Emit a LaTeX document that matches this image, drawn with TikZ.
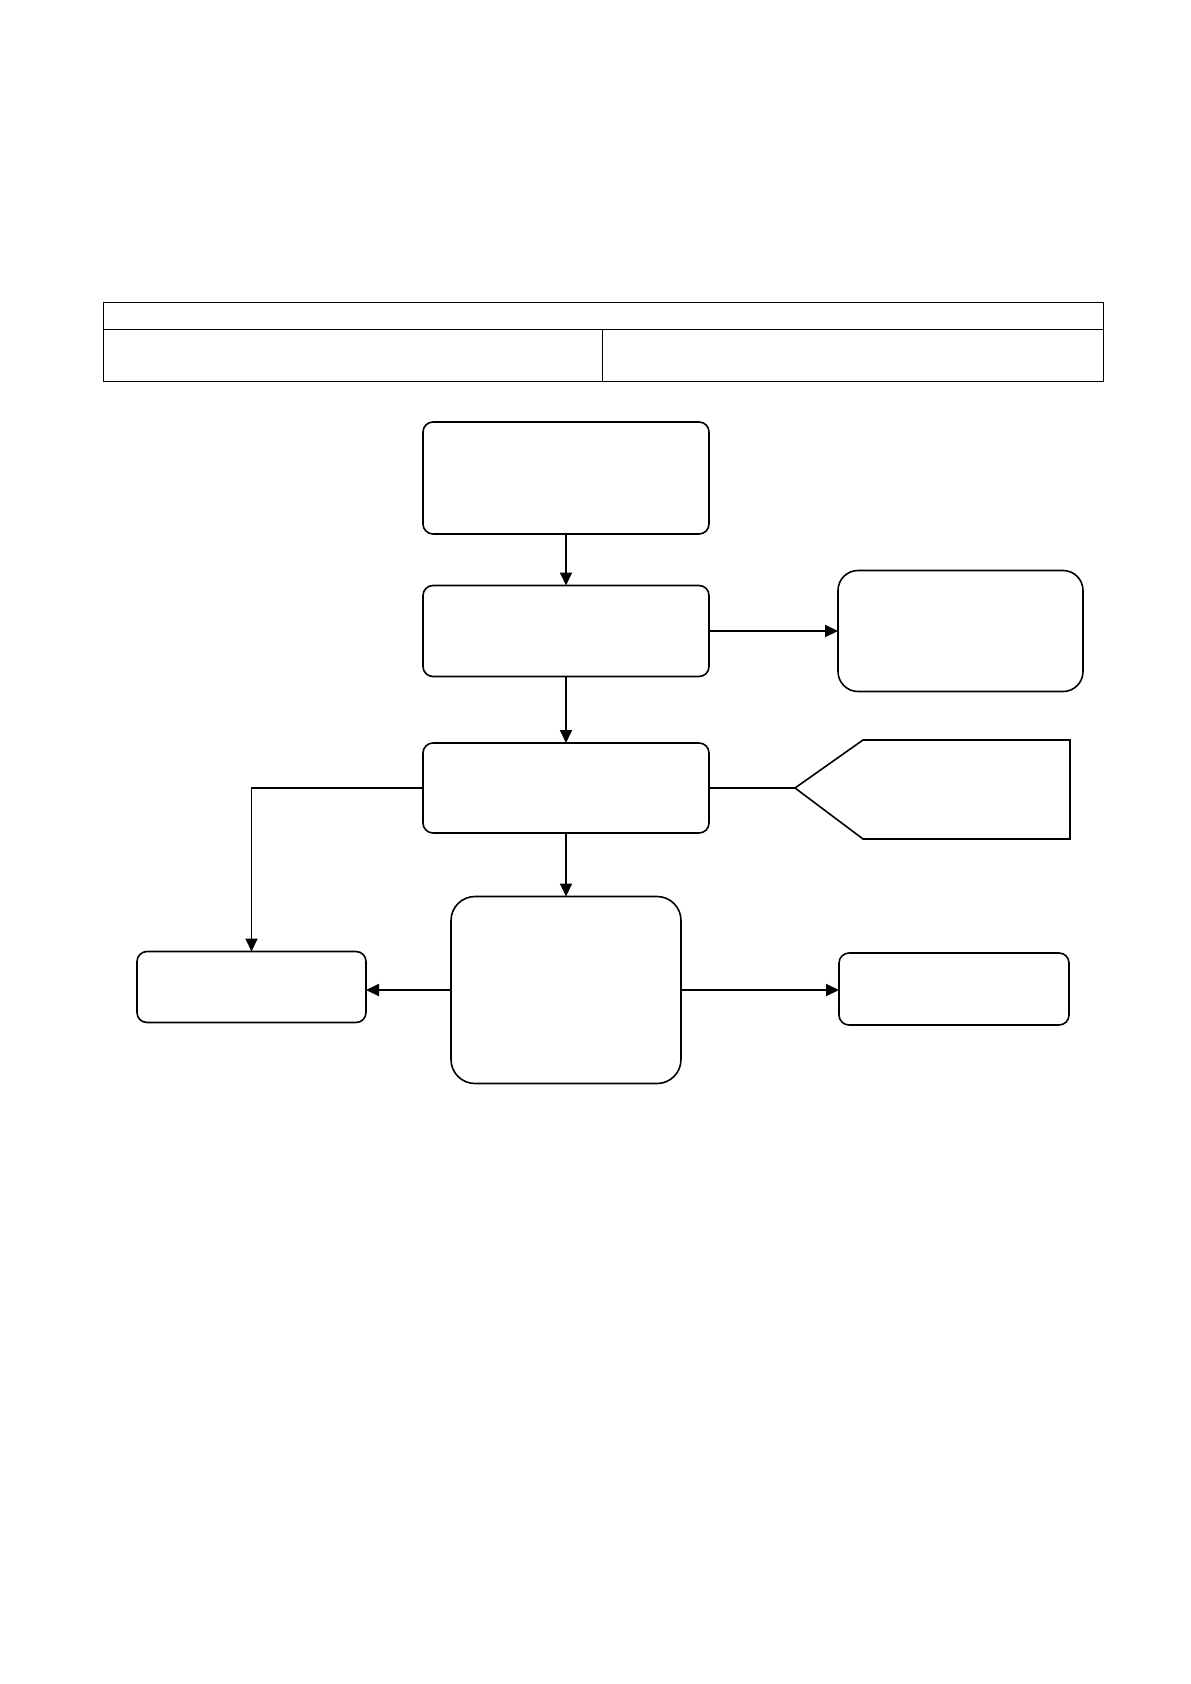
\documentclass[tikz,border=0pt]{standalone}
\usetikzlibrary{arrows.meta}
\begin{document}
\begin{tikzpicture}[x=0.5pt, y=-0.5pt,
    box/.style={draw, line width=0.8pt, rounded corners=5pt, inner sep=0pt, outer sep=0pt},
    cell/.style={draw, line width=0.5pt, inner sep=0pt, outer sep=0pt},
    >={Triangle[length=6.5pt, width=6pt]}]
    \useasboundingbox (0,0) rectangle (1190,1684);
    % header table
    \node[cell, minimum width=500pt, minimum height=13.5pt] (tabtop) at (603,316.5) {};
    \node[cell, minimum width=249.5pt, minimum height=26pt] (tableft) at (352.5,356) {};
    \node[cell, minimum width=250.5pt, minimum height=26pt] (tabright) at (852.5,356) {};
    % flow
    \node[box, minimum width=143pt, minimum height=56pt] (start) at (566,478) {};
    \node[box, minimum width=143pt, minimum height=45.5pt] (check) at (566,631) {};
    \node[box, rounded corners=10pt, minimum width=122.5pt, minimum height=60.5pt] (side) at (960.5,631) {};
    \node[box, minimum width=143pt, minimum height=45pt] (review) at (566,788) {};
    \node[box, rounded corners=12pt, minimum width=115pt, minimum height=93.5pt] (decide) at (566,990) {};
    \node[box, minimum width=114.5pt, minimum height=35.5pt] (left) at (251.5,987) {};
    \node[box, minimum width=115pt, minimum height=36pt] (right) at (954,989) {};
    % tag shape
    \coordinate (tip) at (795,788);
    \draw[line width=0.8pt] (tip) -- (863,740) -- (1070,740) -- (1070,839) -- (863,839) -- cycle;
    % connectors
    \draw[->, line width=0.9pt] (start) -- (check);
    \draw[->, line width=0.9pt] (check) -- (review);
    \draw[->, line width=0.9pt] (review) -- (decide);
    \draw[->, line width=0.9pt] (check.east) -- (side.west |- check.east);
    \draw[line width=0.9pt] (review.east) -- (tip);
    \draw[->, line width=0.9pt] (review.west) -| (left.north);
    \draw[->, line width=0.9pt] (decide.west) -- (left.east |- decide.west);
    \draw[->, line width=0.9pt] (decide.east) -- (right.west |- decide.east);
\end{tikzpicture}
\end{document}
